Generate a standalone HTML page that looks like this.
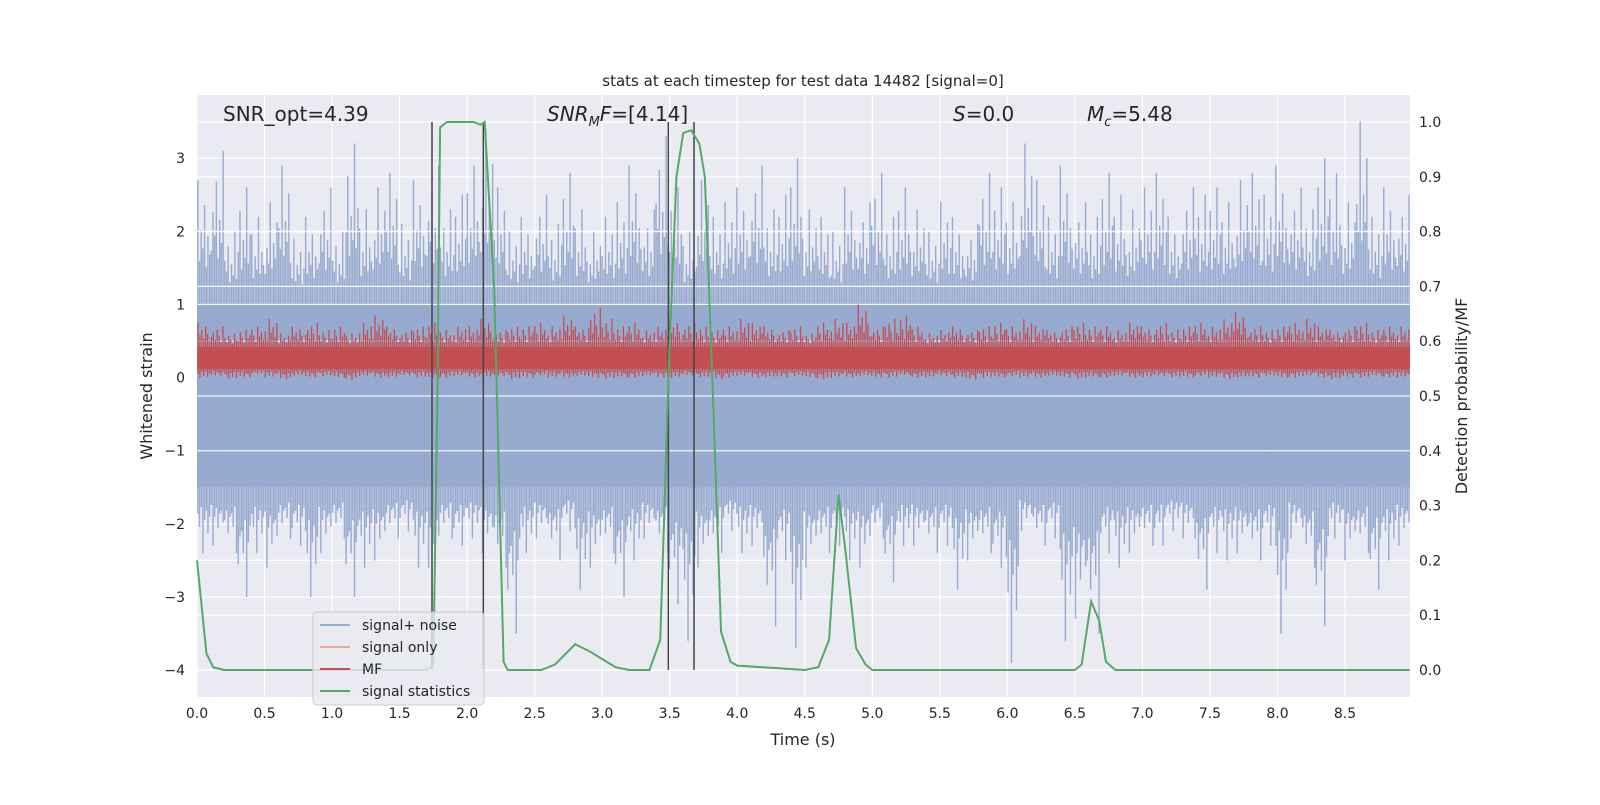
<!DOCTYPE html>
<html><head><meta charset="utf-8"><style>
body{margin:0;background:#fff;font-family:"Liberation Sans","DejaVu Sans",sans-serif}
svg text{font-family:"DejaVu Sans","Liberation Sans",sans-serif;fill:#262626}
</style></head><body>
<svg id="c" width="1600" height="800" xmlns="http://www.w3.org/2000/svg"></svg>
<script>
const xTicks=[0,0.5,1,1.5,2,2.5,3,3.5,4,4.5,5,5.5,6,6.5,7,7.5,8,8.5];
const yTicksL=[-4,-3,-2,-1,0,1,2,3];
const yTicksR=[0,0.1,0.2,0.3,0.4,0.5,0.6,0.7,0.8,0.9,1.0];
const noiseUpper=[2.7,3.1,2.0,2.6,2.2,2.4,2.9,1.9,2.2,2.6,2.0,3.2,2.3,2.6,2.8,2.1,2.7,2.9,2.3,2.5,2.9,3.4,2.6,2.0,2.2,2.5,2.1,2.8,2.3,2.0,2.2,2.4,2.9,2.3,3.3,2.6,2.0,2.7,2.2,2.4,2.6,2.9,2.3,2.5,3.0,2.3,2.2,2.0,2.6,2.4,2.8,2.2,2.6,2.3,2.0,2.4,2.2,2.1,2.8,2.6,2.4,3.2,2.7,2.2,2.9,2.4,2.2,2.8,2.5,2.3,2.6,2.8,2.2,2.6,2.5,2.6,2.4,2.7,2.8,2.5,2.9,2.6,2.3,3.0,2.8,2.4,3.5,2.2,2.6,2.5];
const noiseLower=[-2.4,-2.3,-2.4,-3.0,-2.4,-2.6,-2.2,-2.3,-3.0,-2.4,-2.2,-3.0,-2.6,-2.5,-2.2,-2.1,-2.6,-2.6,-2.2,-2.3,-2.2,-2.4,-2.6,-3.5,-2.4,-2.2,-2.5,-2.1,-2.9,-2.6,-2.4,-3.0,-2.5,-2.2,-2.4,-3.1,-3.6,-2.6,-2.4,-2.1,-2.4,-2.3,-3.4,-2.5,-3.7,-2.6,-2.4,-2.3,-2.5,-2.6,-2.2,-2.8,-2.3,-2.3,-2.4,-2.3,-2.9,-2.5,-2.4,-2.6,-3.9,-2.1,-2.3,-2.2,-3.6,-3.3,-3.5,-2.4,-2.6,-2.4,-2.3,-2.3,-2.1,-2.2,-2.9,-2.4,-2.5,-2.4,-2.5,-2.3,-3.5,-2.2,-2.6,-3.4,-2.2,-2.5,-2.4,-2.9,-2.5,-2.3];
const mfUpper=[0.75,0.7,0.6,0.65,0.7,0.8,0.6,0.7,0.75,0.65,0.7,0.6,0.75,0.85,0.7,0.65,0.7,0.75,0.65,0.7,0.7,0.8,0.65,0.7,0.7,0.75,0.7,0.85,0.7,0.95,0.8,0.7,0.75,0.65,0.7,0.8,0.75,0.7,0.65,0.7,0.8,0.75,0.7,0.65,0.7,0.6,0.75,0.8,0.75,1.0,0.7,0.8,0.85,0.7,0.6,0.65,0.7,0.65,0.7,0.75,0.7,0.8,0.7,0.65,0.7,0.75,0.7,0.7,0.65,0.75,0.7,0.75,0.65,0.7,0.75,0.7,0.8,0.9,0.7,0.65,0.7,0.75,0.8,0.7,0.65,0.7,0.75,0.65,0.7,0.7];
const mfLower=[0.0,0.02,-0.02,0.0,0.05,0.0,-0.02,0.03,0.0,0.02,0.0,-0.03,0.02,0.0,0.0,0.03,0.0,-0.02,0.0,0.02,0.0,0.0,0.02,-0.02,0.0,0.03,0.0,0.0,0.02,0.0,-0.02,0.0,0.0,0.02,0.0,0.0,0.03,0.0,-0.02,0.0,0.02,0.0,0.0,0.0,0.02,0.0,-0.02,0.0,0.0,0.02,0.0,0.0,0.03,0.0,0.0,0.02,0.0,-0.03,0.0,0.0,0.02,0.0,0.0,0.02,0.0,-0.02,0.0,0.0,0.02,0.0,0.0,0.02,0.0,0.0,0.02,0.0,-0.02,0.0,0.0,0.02,0.0,0.0,0.02,0.0,-0.02,0.0,0.0,0.02,0.0,0.0];
const statT=[0,0.07,0.12,0.2,1.7,1.75,1.78,1.8,1.85,2.05,2.1,2.13,2.2,2.27,2.3,2.55,2.65,2.8,2.9,3.0,3.1,3.2,3.35,3.43,3.5,3.55,3.6,3.66,3.72,3.76,3.82,3.88,3.95,4.0,4.25,4.5,4.6,4.68,4.75,4.8,4.88,4.95,5.0,6.5,6.55,6.62,6.68,6.73,6.8,8.98];
const statV=[0.2,0.03,0.005,0,0,0.01,0.5,0.99,1.0,1.0,0.995,1.0,0.7,0.015,0,0,0.01,0.047,0.035,0.02,0.005,0,0,0.055,0.6,0.9,0.98,0.985,0.96,0.9,0.5,0.07,0.015,0.008,0.004,0,0.005,0.055,0.32,0.22,0.04,0.01,0,0,0.01,0.125,0.09,0.015,0,0];
const markerT=[1.74,2.12,3.49,3.68];

const L=197,R=1410,T=95,B=697;
const X=t=>L+t*135.06;
const YL=v=>377.6-v*73.14;
const YR=v=>670-v*548;
const svg=document.getElementById('c');
const NS='http://www.w3.org/2000/svg';
function mk(tag,attrs,parent){const e=document.createElementNS(NS,tag);for(const k in attrs)e.setAttribute(k,attrs[k]);(parent||svg).appendChild(e);return e;}

let bg=mk('rect',{x:L,y:T,width:R-L,height:B-T,fill:'#eaeaf2'});


const grid=mk('g',{stroke:'#fff','stroke-width':1.2});


xTicks.forEach(t=>mk('line',{x1:X(t),x2:X(t),y1:T,y2:B},grid));
yTicksL.forEach(v=>mk('line',{x1:L,x2:R,y1:YL(v),y2:YL(v)},grid));
yTicksR.forEach(v=>mk('line',{x1:L,x2:R,y1:YR(v),y2:YR(v)},grid));

// noise
const ng=mk('g',{});


const bTop=1.0,bBot=-1.5;
mk('rect',{x:L,y:YL(bTop),width:R-L,height:YL(bBot)-YL(bTop),fill:'#97aacf'},ng);
const fu=[1,0.35,0.6,0.45,0.8,0.3,0.55,0.4];
const fl=[0.4,0.6,0.3,1,0.5,0.35,0.7,0.45];
const dt=8.98/noiseUpper.length;
noiseUpper.forEach((v,i)=>{
  for(let k=0;k<8;k++){
    const x=X(i*dt+dt*(k+0.5)/8);
    mk('line',{x1:x,x2:x,y1:YL(bTop+(v-bTop)*fu[(k+i)%8]),y2:YL(bBot+(noiseLower[i]-bBot)*fl[(k+2*i)%8]),stroke:'#97aacf','stroke-width':1.4},ng);
  }
});
const g2=mk('g',{stroke:'#fff','stroke-width':1.2,opacity:0.9});


[1,2,-1].forEach(v=>mk('line',{x1:L,x2:R,y1:YL(v),y2:YL(v)},g2));
[0.5,0.6,0.7,0.8].forEach(v=>mk('line',{x1:L,x2:R,y1:YR(v),y2:YR(v)},g2));

// MF
const mg=mk('g',{});


mk('rect',{x:L,y:YL(0.42),width:R-L,height:YL(0.12)-YL(0.42),fill:'#c44e52'},mg);
const mfu=[1,0.5,0.7,0.35,0.85,0.55,0.25];
const mfl=[0.6,1,0.4,0.8,0.3,0.9,0.5];
const dm=8.98/mfUpper.length;
mfUpper.forEach((v,i)=>{
  for(let k=0;k<7;k++){
    const x=X(i*dm+dm*(k+0.5)/7);
    mk('line',{x1:x,x2:x,y1:YL(0.42+(v-0.42)*mfu[(k+i)%7]),y2:YL(0.12+(mfLower[i]-0.12)*mfl[(k+i*3)%7]),stroke:'#c44e52','stroke-width':1.3},mg);
  }
});

// markers
markerT.forEach(t=>{
  const l=mk('line',{x1:X(t),x2:X(t),y1:YR(1.0),y2:YR(0),stroke:'#444','stroke-width':1.5});
  
  
});

// stats
const sl=mk('polyline',{points:statT.map((t,i)=>X(t)+','+YR(statV[i])).join(' '),fill:'none',stroke:'#55a868','stroke-width':2});



// ticks
const ax=mk('g',{'font-size':14});


xTicks.forEach(t=>{const e=mk('text',{x:X(t),y:B+21,'text-anchor':'middle'},ax);e.textContent=t.toFixed(1);});
yTicksL.forEach(v=>{const e=mk('text',{x:L-12,y:YL(v)+5,'text-anchor':'end'},ax);e.textContent=v<0?'\u2212'+(-v):String(v);});
yTicksR.forEach(v=>{const e=mk('text',{x:R+9,y:YR(v)+5},ax);e.textContent=v.toFixed(1);});

function txt(s,attrs,name){const e=mk('text',attrs);e.innerHTML=s;return e;}
txt('stats at each timestep for test data 14482 [signal=0]',{x:803,y:86,'text-anchor':'middle','font-size':15},'chart-title');
txt('Time (s)',{x:803,y:745,'text-anchor':'middle','font-size':16},'x-axis-title');
txt('Whitened strain',{x:0,y:0,'text-anchor':'middle','font-size':16,transform:'translate(152,396) rotate(-90)'},'y-axis-title');
txt('Detection probability/MF',{x:0,y:0,'text-anchor':'middle','font-size':16,transform:'translate(1467,396) rotate(-90)'},'right-axis-title');
txt('SNR_opt=4.39',{x:223,y:121,'font-size':20},'snr-opt-label');
txt('<tspan font-style="italic">SNR</tspan><tspan font-style="italic" font-size="13" dy="5">M</tspan><tspan font-style="italic" dy="-5">F</tspan>=[4.14]',{x:547,y:121,'font-size':20},'snr-mf-label');
txt('<tspan font-style="italic">S</tspan>=0.0',{x:953,y:121,'font-size':20},'s-label');
txt('<tspan font-style="italic">M</tspan><tspan font-style="italic" font-size="13" dy="5">c</tspan><tspan dy="-5">=5.48</tspan>',{x:1087,y:121,'font-size':20},'mc-label');

// legend
const lg=mk('g',{});


mk('rect',{x:313,y:612,width:171,height:93,rx:4,fill:'#eaeaf2','fill-opacity':0.8,stroke:'#ccc'},lg);
[['signal+ noise','#97aacf'],['signal only','#f0a98a'],['MF','#c44e52'],['signal statistics','#55a868']].forEach((e,i)=>{
  const y=625+i*22;
  const it=mk('g',{},lg);
  
  
  mk('line',{x1:320,x2:350,y1:y,y2:y,stroke:e[1],'stroke-width':2},it);
  const t=mk('text',{x:362,y:y+5,'font-size':14},it);t.textContent=e[0];
});
</script>
</body></html>
